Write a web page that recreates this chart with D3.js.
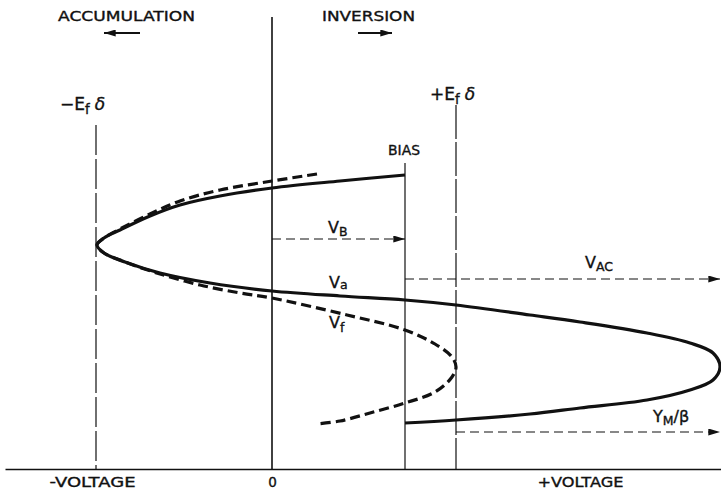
<!DOCTYPE html>
<html>
<head>
<meta charset="utf-8">
<script src="https://cdn.jsdelivr.net/npm/d3@7"></script>
<style>
  html, body { margin: 0; padding: 0; background: #fff; }
  svg { display: block; }
  text { font-family: "DejaVu Sans", "Liberation Sans", sans-serif; fill: #111; stroke: #111; stroke-width: 0.35px; }
</style>
</head>
<body>
<svg id="chart" width="721" height="492"></svg>
<script>
// Gate voltage (units of 100 px ≈ arbitrary volts) vs. vertical response parameter.
// Solid S-curve: applied voltage trace V_a
const curveVa = [
  [1.33, 2.94], [0.68, 2.88], [0.00, 2.81], [-0.52, 2.73], [-0.92, 2.64],
  [-1.22, 2.53], [-1.52, 2.39], [-1.68, 2.31], [-1.75, 2.24], [-1.68, 2.16],
  [-1.47, 2.07], [-1.12, 1.96], [-0.62, 1.86], [0.00, 1.78], [0.68, 1.73],
  [1.33, 1.69], [1.84, 1.64], [2.58, 1.54], [3.08, 1.47], [3.75, 1.36],
  [4.18, 1.26], [4.41, 1.16], [4.48, 1.02], [4.41, 0.89], [4.18, 0.79],
  [3.75, 0.69], [3.08, 0.61], [2.58, 0.55], [1.84, 0.49], [1.33, 0.46]
];
// Dashed curve: field-plate voltage trace V_f
const curveVf = [
  [0.45, 2.95], [0.00, 2.88], [-0.52, 2.79], [-0.92, 2.68], [-1.22, 2.55],
  [-1.52, 2.40], [-1.68, 2.31], [-1.75, 2.24], [-1.68, 2.16], [-1.47, 2.07],
  [-1.12, 1.95], [-0.72, 1.84], [-0.32, 1.76], [0.00, 1.71], [0.75, 1.54],
  [1.33, 1.39], [1.63, 1.25], [1.80, 1.12], [1.84, 1.02], [1.80, 0.92],
  [1.63, 0.77], [1.33, 0.66], [0.98, 0.56], [0.68, 0.48], [0.45, 0.45]
];
// Reference voltages
const zeroV = 0;
const biasV = 1.33;
const efPlusV = 1.84;
const efMinusV = -1.76;
// Axis labels
const axisTickValues = [-1.80, 0, 3.08];
const axisTickLabels = ["-VOLTAGE", "0", "+VOLTAGE"];
// Levels of the horizontal arrows
const levelVB = 2.30;
const levelVAC = 1.90;
const levelYM = 0.37;

const svg = d3.select("#chart");

const x = d3.scaleLinear().domain([-2.67, 4.49]).range([5, 721]);
const y = d3.scaleLinear().domain([0, 4.6]).range([469, 9]);

// Arrowhead marker
const defs = svg.append("defs");
defs.append("marker")
  .attr("id", "head")
  .attr("viewBox", "0 0 10 6")
  .attr("refX", 10).attr("refY", 3)
  .attr("markerWidth", 12).attr("markerHeight", 7)
  .attr("markerUnits", "userSpaceOnUse")
  .attr("orient", "auto")
  .append("path").attr("d", "M0,0 L10,3 L0,6 Z").attr("fill", "#111");

// Horizontal voltage axis
const axis = d3.axisBottom(x)
  .tickValues(axisTickValues)
  .tickFormat((d, i) => axisTickLabels[i])
  .tickSize(0)
  .tickPadding(8);
const gAxis = svg.append("g").attr("transform", `translate(0,${y(0)})`).call(axis);
gAxis.select(".domain").attr("stroke", "#111").attr("stroke-width", 1.6);
gAxis.selectAll("text")
  .style("font-family", "DejaVu Sans, sans-serif")
  .style("font-size", "13.5px")
  .attr("fill", "#111")
  .each(function (d, i) {
    if (axisTickLabels[i].length > 1) {
      d3.select(this).attr("textLength", 86).attr("lengthAdjust", "spacingAndGlyphs");
    }
  });

// Vertical reference lines
const vlines = [
  { v: zeroV, top: 4.52, w: 1.6, dash: null },
  { v: biasV, top: 3.06, w: 1.2, dash: null },
  { v: efPlusV, top: 3.64, w: 1.2, dash: "34,3" },
  { v: efMinusV, top: 3.44, w: 1.2, dash: "30,4" }
];
svg.append("g").selectAll("line").data(vlines).join("line")
  .attr("x1", d => x(d.v)).attr("x2", d => x(d.v))
  .attr("y1", d => y(d.top)).attr("y2", y(0))
  .attr("stroke", "#111").attr("stroke-width", d => d.w)
  .attr("stroke-dasharray", d => d.dash);

// Curves
const line = d3.line().x(d => x(d[0])).y(d => y(d[1])).curve(d3.curveCatmullRom.alpha(0.5));

svg.append("path").datum(curveVf)
  .attr("d", line).attr("fill", "none")
  .attr("stroke", "#111").attr("stroke-width", 3.2)
  .attr("stroke-dasharray", "10,5");

svg.append("path").datum(curveVa)
  .attr("d", line).attr("fill", "none")
  .attr("stroke", "#111").attr("stroke-width", 3.2)
  .attr("stroke-linecap", "butt");

// Dashed arrows
const arrows = [
  { from: zeroV, to: biasV, t: levelVB },
  { from: biasV, to: 4.48, t: levelVAC },
  { from: efPlusV, to: 4.48, t: levelYM }
];
svg.append("g").selectAll("line").data(arrows).join("line")
  .attr("x1", d => x(d.from)).attr("x2", d => x(d.to))
  .attr("y1", d => y(d.t)).attr("y2", d => y(d.t))
  .attr("stroke", "#111").attr("stroke-width", 1.2)
  .attr("stroke-dasharray", "9,5")
  .attr("marker-end", "url(#head)");

// Text labels
function label(px, py, parts, size, opts = {}) {
  const t = svg.append("text").attr("x", px).attr("y", py)
    .style("font-size", size + "px");
  if (opts.len) t.attr("textLength", opts.len).attr("lengthAdjust", "spacingAndGlyphs");
  parts.forEach(p => {
    const s = t.append("tspan").text(p.s);
    if (p.sub) s.style("font-size", (size * 0.78) + "px").attr("dy", p.sub);
    if (p.dy) s.attr("dy", p.dy);
    if (p.italic) s.style("font-style", "italic");
    if (p.dx) s.attr("dx", p.dx);
  });
  return t;
}

label(58, 21, [{ s: "ACCUMULATION" }], 13.5, { len: 137 });
label(322, 21, [{ s: "INVERSION" }], 13.5, { len: 93 });
label(388, 155, [{ s: "BIAS" }], 13.5, { len: 32 });

// Direction arrows under the region names
svg.append("line").attr("x1", 140).attr("x2", 104).attr("y1", 33).attr("y2", 33)
  .attr("stroke", "#111").attr("stroke-width", 2.2).attr("marker-end", "url(#head)");
svg.append("line").attr("x1", 358).attr("x2", 392).attr("y1", 33).attr("y2", 33)
  .attr("stroke", "#111").attr("stroke-width", 2.2).attr("marker-end", "url(#head)");

// ±E_f δ labels
label(60, 110, [{ s: "−E" }, { s: "f", sub: 4 }, { s: "δ", dy: -4, dx: 5, italic: true }], 17);
label(430, 100, [{ s: "+E" }, { s: "f", sub: 4 }, { s: "δ", dy: -4, dx: 5, italic: true }], 17);

// Voltage labels
label(328, 233, [{ s: "V" }, { s: "B", sub: 3 }], 16);
label(329, 288, [{ s: "V" }, { s: "a", sub: 1 }], 16);
label(329, 328, [{ s: "V" }, { s: "f", sub: 4 }], 16);
label(585, 268, [{ s: "V" }, { s: "AC", sub: 3 }], 16);
label(653, 422, [{ s: "Y" }, { s: "M", sub: 3 }, { s: "/β", dy: -3 }], 16);
</script>
</body>
</html>
